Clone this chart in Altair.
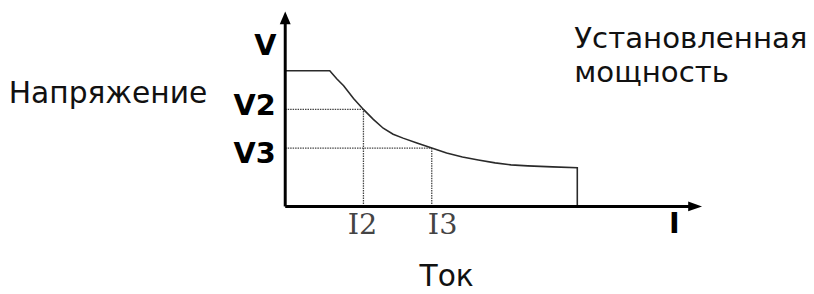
import altair as alt
import pandas as pd

# ---- values (arbitrary units: current I, voltage V) ----
curve_i = [0, 45, 52, 59, 69, 79, 89, 99, 109, 119, 133, 148, 163, 179, 195, 212, 228, 245, 270, 295, 295]
curve_v = [137, 137, 129, 122, 109, 98, 88, 79, 73, 69, 64, 59, 54, 50, 47, 44, 42, 41, 40, 39, 0]

I2, V2 = 79, 98
I3, V3 = 148, 59

axis_i_end = 410   # end of current axis (before arrow)
axis_v_end = 186   # end of voltage axis (before arrow)

# ---- text annotations (label, position in data units) ----
label_text = ["Напряжение", "Установленная", "мощность", "Ток"]
label_i = [-179, 292, 292, 163]
label_v = [104, 160, 126, -80]

bold_text = ["V", "V2", "V3", "I"]
bold_i = [-20, -31, -31, 393]
bold_v = [153, 92, 44, -27]

tick_text = ["I2", "I3"]
tick_i = [78, 159]
tick_v = [-28, -28]

xs = alt.Scale(domain=[-280, 526], nice=False, zero=False)
ys = alt.Scale(domain=[-87, 199], nice=False, zero=False)

def X(field="i"):
    return alt.X(f"{field}:Q", scale=xs, axis=None)

def Y(field="v"):
    return alt.Y(f"{field}:Q", scale=ys, axis=None)

curve_df = pd.DataFrame({"i": curve_i, "v": curve_v, "o": range(len(curve_i))})
curve = alt.Chart(curve_df).mark_line(color="#2a2a2a", strokeWidth=1.6).encode(
    x=X(), y=Y(), order="o:Q"
)

guides_df = pd.DataFrame({
    "i": [0, I2, 0, I3],
    "i2": [I2, I2, I3, I3],
    "v": [V2, 0, V3, 0],
    "v2": [V2, V2, V3, V3],
})
guides = alt.Chart(guides_df).mark_rule(color="#444444", strokeWidth=1.3, strokeDash=[1.5, 1]).encode(
    x=X(), x2="i2:Q", y=Y(), y2="v2:Q"
)

axes_df = pd.DataFrame({"i": [0, 0], "i2": [axis_i_end, 0], "v": [0, 0], "v2": [0, axis_v_end]})
axes = alt.Chart(axes_df).mark_rule(color="black", strokeWidth=3).encode(
    x=X(), x2="i2:Q", y=Y(), y2="v2:Q"
)

arrow_right = alt.Chart(pd.DataFrame({"i": [414], "v": [0]})).mark_point(
    shape="M -1 -0.7 L 1 0 L -1 0.7 Z", filled=True, size=196, color="black", opacity=1, strokeWidth=0
).encode(x=X(), y=Y())
arrow_up = alt.Chart(pd.DataFrame({"i": [0], "v": [190.5]})).mark_point(
    shape="M -0.85 1 L 0 -1 L 0.85 1 Z", filled=True, size=169, color="black", opacity=1, strokeWidth=0
).encode(x=X(), y=Y())

lab_df = pd.DataFrame({"t": label_text, "i": label_i, "v": label_v,
                       "a": ["center", "left", "left", "center"]})
labels_c = alt.Chart(lab_df[lab_df.a == "center"]).mark_text(
    font="DejaVu Sans", fontSize=30, align="center", baseline="alphabetic", color="#111111"
).encode(x=X(), y=Y(), text="t:N")
labels_l = alt.Chart(lab_df[lab_df.a == "left"]).mark_text(
    font="DejaVu Sans", fontSize=29.5, align="left", baseline="alphabetic", color="#111111"
).encode(x=X(), y=Y(), text="t:N")

bold_df = pd.DataFrame({"t": bold_text, "i": bold_i, "v": bold_v})
bold = alt.Chart(bold_df).mark_text(
    font="DejaVu Sans", fontSize=29, fontWeight="bold", align="center", baseline="alphabetic", color="black"
).encode(x=X(), y=Y(), text="t:N")

tick_df = pd.DataFrame({"t": tick_text, "i": tick_i, "v": tick_v})
ticks = alt.Chart(tick_df).mark_text(
    font="DejaVu Serif", fontSize=29, align="center", baseline="alphabetic", color="#444444"
).encode(x=X(), y=Y(), text="t:N")

chart = alt.layer(
    guides, curve, axes, arrow_right, arrow_up, labels_c, labels_l, bold, ticks
).properties(
    width=806, height=286, padding=0,
    autosize=alt.AutoSizeParams(type="none"),
    background="white",
).configure_view(stroke=None)

chart.save("out.html", embed_options={"renderer": "svg", "actions": False})
